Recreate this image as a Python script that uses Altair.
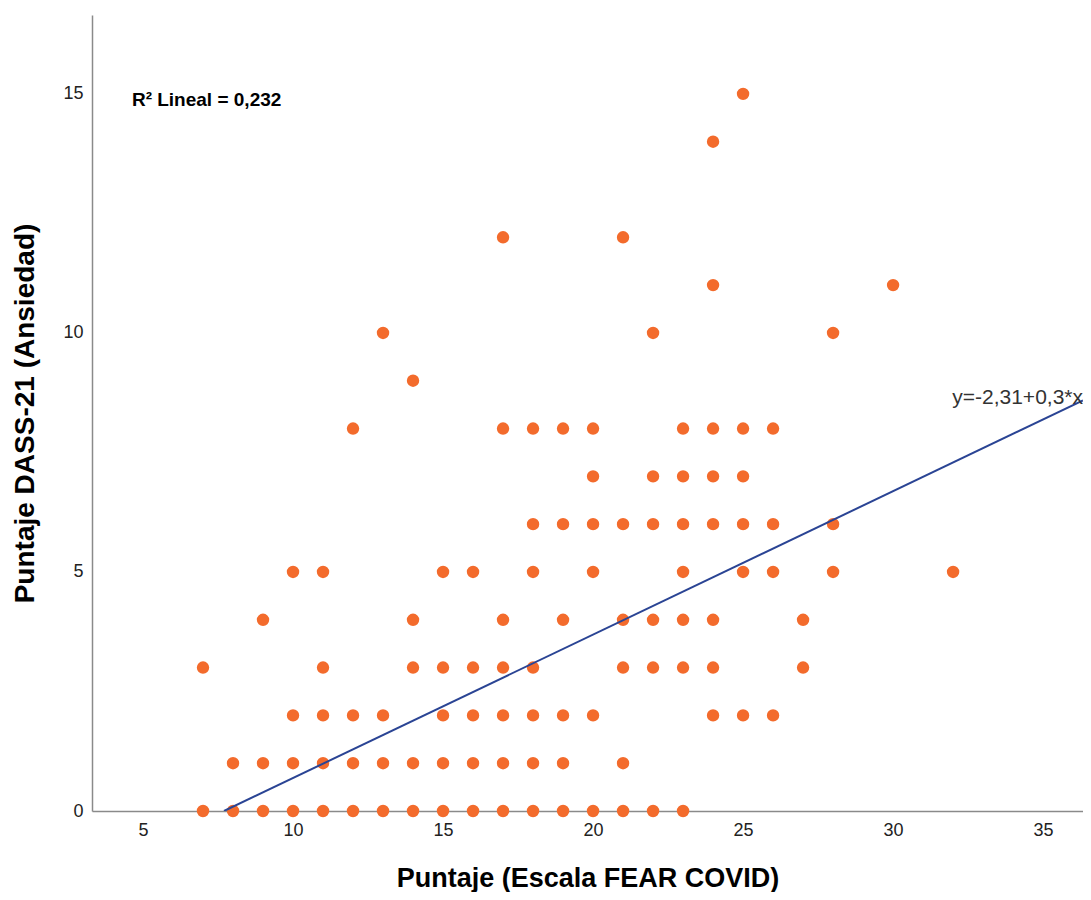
import altair as alt
import pandas as pd

# FEAR COVID score (x) and DASS-21 anxiety score (y), one entry per visible point
fear = [7, 7,
        8, 8,
        9, 9, 9,
        10, 10, 10, 10,
        11, 11, 11, 11, 11,
        12, 12, 12, 12,
        13, 13, 13, 13,
        14, 14, 14, 14, 14,
        15, 15, 15, 15, 15,
        16, 16, 16, 16, 16,
        17, 17, 17, 17, 17, 17, 17,
        18, 18, 18, 18, 18, 18, 18,
        19, 19, 19, 19, 19, 19,
        20, 20, 20, 20, 20, 20,
        21, 21, 21, 21, 21, 21,
        22, 22, 22, 22, 22, 22,
        23, 23, 23, 23, 23, 23, 23,
        24, 24, 24, 24, 24, 24, 24, 24,
        25, 25, 25, 25, 25, 25,
        26, 26, 26, 26,
        27, 27,
        28, 28, 28,
        30,
        32]
dass = [3, 0,
        1, 0,
        4, 1, 0,
        5, 2, 1, 0,
        5, 3, 2, 1, 0,
        8, 2, 1, 0,
        10, 2, 1, 0,
        9, 4, 3, 1, 0,
        5, 3, 2, 1, 0,
        5, 3, 2, 1, 0,
        12, 8, 4, 3, 2, 1, 0,
        8, 6, 5, 3, 2, 1, 0,
        8, 6, 4, 2, 1, 0,
        8, 7, 6, 5, 2, 0,
        12, 6, 4, 3, 1, 0,
        10, 7, 6, 4, 3, 0,
        8, 7, 6, 5, 4, 3, 0,
        14, 11, 8, 7, 6, 4, 3, 2,
        15, 8, 7, 6, 5, 2,
        8, 6, 5, 2,
        4, 3,
        10, 6, 5,
        11,
        5]

# Linear fit reported in the chart
intercept = -2.31
slope = 0.3
fit_x = [7.7, 36.33]

x_ticks = [5, 10, 15, 20, 25, 30, 35]
y_ticks = [0, 5, 10, 15]
x_domain = [3.3, 36.33]
y_domain = [0, 16.65]

r2_label = "R² Lineal = 0,232"
eq_label = "y=-2,31+0,3*x"

FONT = "Liberation Sans"

df = pd.DataFrame({"fear": fear, "dass": dass})
fit_df = pd.DataFrame({"fear": fit_x})

x_scale = alt.Scale(domain=x_domain, nice=False, zero=False)
y_scale = alt.Scale(domain=y_domain, nice=False, zero=False)

x_axis = alt.Axis(
    title="Puntaje (Escala FEAR COVID)",
    values=x_ticks, grid=False, ticks=False,
    labelFont=FONT, labelFontSize=18, labelColor="#222222", labelPadding=10,
    titleFont=FONT, titleFontSize=27, titleFontWeight="bold", titleColor="#000000",
    titlePadding=26,
    domainColor="#8a8a8a", domainWidth=1.5,
)
y_axis = alt.Axis(
    title="Puntaje DASS-21 (Ansiedad)",
    values=y_ticks, grid=False, ticks=False,
    labelFont=FONT, labelFontSize=18, labelColor="#222222", labelPadding=9,
    titleFont=FONT, titleFontSize=28, titleFontWeight="bold", titleColor="#000000",
    titlePadding=23,
    domainColor="#8a8a8a", domainWidth=1.5,
)

points = alt.Chart(df).mark_circle(size=154, color="#f36b2c", opacity=1).encode(
    x=alt.X("fear:Q", scale=x_scale, axis=x_axis),
    y=alt.Y("dass:Q", scale=y_scale, axis=y_axis),
)

fit = alt.Chart(fit_df).transform_calculate(
    dass=f"{intercept} + {slope} * datum.fear"
).mark_line(color="#2a4494", strokeWidth=2, clip=True).encode(
    x=alt.X("fear:Q", scale=x_scale),
    y=alt.Y("dass:Q", scale=y_scale),
)

r2_df = pd.DataFrame({"fear": [4.63], "dass": [14.87], "label": [r2_label]})
eq_df = pd.DataFrame({"fear": [36.33], "dass": [8.64], "label": [eq_label]})

r2_text = alt.Chart(r2_df).mark_text(
    align="left", baseline="middle", font=FONT, fontSize=19, fontWeight="bold", color="#000000"
).encode(
    x=alt.X("fear:Q", scale=x_scale),
    y=alt.Y("dass:Q", scale=y_scale),
    text="label:N",
)

eq_text = alt.Chart(eq_df).mark_text(
    align="right", baseline="middle", font=FONT, fontSize=21, color="#333333"
).encode(
    x=alt.X("fear:Q", scale=x_scale),
    y=alt.Y("dass:Q", scale=y_scale),
    text="label:N",
)

chart = alt.layer(points, fit, r2_text, eq_text).properties(
    width=991,
    height=796,
    autosize=alt.AutoSizeParams(type="none"),
    padding={"left": 84, "top": 7, "right": 0, "bottom": 81},
    background="#ffffff",
).configure_view(stroke=None)

chart.save("out.html", embed_options={"renderer": "svg", "actions": False})
